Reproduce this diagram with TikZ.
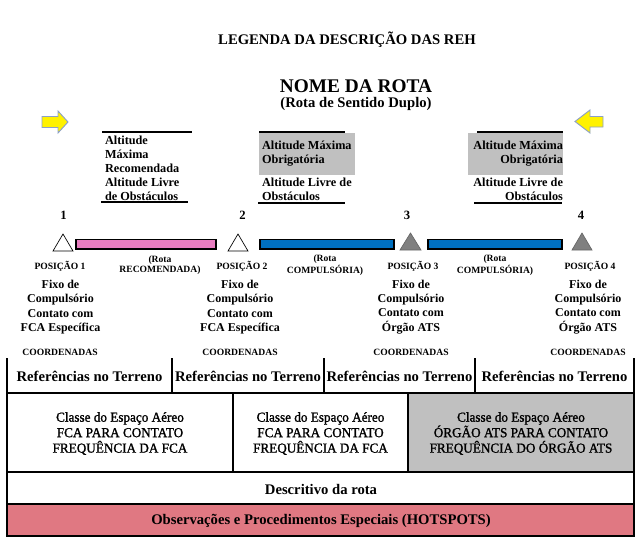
\documentclass[tikz,border=0pt]{standalone}
\usepackage{fontspec}
\setmainfont{Liberation Serif}
\newfontfamily\clsfont[FakeBold=1.3,FakeStretch=0.96]{Liberation Serif}
\definecolor{pinkbar}{RGB}{232,125,192}
\definecolor{bluebar}{RGB}{0,112,192}
\definecolor{boxgray}{RGB}{192,192,192}
\definecolor{trigray}{RGB}{128,128,128}
\definecolor{hotpink}{RGB}{224,120,130}
\definecolor{arrowedge}{RGB}{140,160,200}
\begin{document}
\begin{tikzpicture}[x=0.75pt,y=-0.75pt,
  every node/.style={inner sep=0pt, outer sep=0pt, text=black},
  titletxt/.style={font=\bfseries\fontsize{11}{13}\selectfont},
  bigtxt/.style={font=\bfseries\fontsize{14.5}{17}\selectfont},
  subtxt/.style={font=\bfseries\fontsize{11}{13}\selectfont},
  boxtxt/.style={font=\bfseries\fontsize{9.2}{10.5}\selectfont},
  numtxt/.style={font=\bfseries\fontsize{9.5}{11}\selectfont},
  smalltxt/.style={font=\bfseries\fontsize{7.2}{7.5}\selectfont, align=center},
  fixotxt/.style={font=\bfseries\fontsize{9}{10.7}\selectfont, align=center},
  reftxt/.style={font=\bfseries\fontsize{11}{13}\selectfont},
  clstxt/.style={font=\clsfont\fontsize{10.3}{11.6}\selectfont, align=center},
  thickrule/.style={line width=1.5pt},
  barshape/.style={draw=black, line width=0.9pt},
  tableline/.style={draw=black, line width=0.9pt},
  whitetri/.style={draw=black, fill=white, line width=0.5pt},
  graytri/.style={draw=black!60, fill=trigray, line width=0.5pt},
  yarrow/.style={fill=yellow, draw=arrowedge, line width=0.7pt}]
\useasboundingbox (0,0) rectangle (644,550);

% titles
\node[titletxt] (title) at (347,40) {LEGENDA DA DESCRIÇÃO DAS REH};
\node[bigtxt] (nome) at (356,86) {NOME DA ROTA};
\node[subtxt] (sub) at (356,104) {(Rota de Sentido Duplo)};

% yellow arrows
\draw[yarrow] (42,116.5) -- (58,116.5) -- (58,111) -- (68,122) -- (58,133) -- (58,127.5) -- (42,127.5) -- cycle;
\draw[yarrow] (603,116.5) -- (590,116.5) -- (590,110) -- (575,121.5) -- (590,133) -- (590,127) -- (603,127) -- cycle;

% box 1
\draw[thickrule] (102,132) -- (192,132);
\draw[thickrule] (101,202) -- (188,202);
\node[boxtxt, anchor=west, align=left] (alt1) at (105,168) {Altitude\\Máxima\\Recomendada\\Altitude Livre\\de Obstáculos};

% box 2
\fill[boxgray] (259,133) rectangle (355,175);
\draw[thickrule] (259,132) -- (345,132);
\draw[thickrule] (258,203) -- (345,203);
\node[boxtxt, anchor=west, align=left] (alt2a) at (262,154) {Altitude Máxima\\Obrigatória};
\node[boxtxt, anchor=west, align=left] (alt2b) at (262,189) {Altitude Livre de\\Obstáculos};

% box 3
\fill[boxgray] (468,133) rectangle (563,175);
\draw[thickrule] (477,132) -- (563,132);
\draw[thickrule] (474,203) -- (562,203);
\node[boxtxt, anchor=east, align=right] (alt3a) at (563,154) {Altitude Máxima\\Obrigatória};
\node[boxtxt, anchor=east, align=right] (alt3b) at (563,189) {Altitude Livre de\\Obstáculos};

% numbers
\node[numtxt] (n1) at (63.5,215) {1};
\node[numtxt] (n2) at (242.5,215) {2};
\node[numtxt] (n3) at (407,215) {3};
\node[numtxt] (n4) at (581,215) {4};

% route line
\draw[whitetri] (53,251) -- (63,234) -- (73,251) -- cycle;
\draw[barshape, fill=pinkbar] (76,239.5) rectangle (216,249);
\draw[whitetri] (228,251) -- (238,234) -- (248,251) -- cycle;
\draw[barshape, fill=bluebar] (260,239.5) rectangle (394,249);
\draw[graytri] (400,250) -- (410.5,233) -- (421,250) -- cycle;
\draw[barshape, fill=bluebar] (428,239.5) rectangle (562,249);
\draw[graytri] (572,250) -- (582,233) -- (592,250) -- cycle;

% labels under line
\node[smalltxt] (p1) at (60,266.5) {POSIÇÃO 1};
\node[smalltxt] (r1) at (160,265) {(Rota\\RECOMENDADA)};
\node[smalltxt] (p2) at (242,266.5) {POSIÇÃO 2};
\node[smalltxt] (r2) at (325,265) {(Rota\\COMPULSÓRIA)};
\node[smalltxt] (p3) at (413,266.5) {POSIÇÃO 3};
\node[smalltxt] (r3) at (495,265) {(Rota\\COMPULSÓRIA)};
\node[smalltxt] (p4) at (590,266.5) {POSIÇÃO 4};

\node[fixotxt] (f1) at (60.5,307) {Fixo de\\Compulsório\\Contato com\\FCA Específica};
\node[fixotxt] (f2) at (240,307) {Fixo de\\Compulsório\\Contato com\\FCA Específica};
\node[fixotxt] (f3) at (411,307) {Fixo de\\Compulsório\\Contato com\\Órgão ATS};
\node[fixotxt] (f4) at (588,307) {Fixo de\\Compulsório\\Contato com\\Órgão ATS};

\node[smalltxt] (c1) at (60,352) {COORDENADAS};
\node[smalltxt] (c2) at (240,352) {COORDENADAS};
\node[smalltxt] (c3) at (411,352) {COORDENADAS};
\node[smalltxt] (c4) at (588,352) {COORDENADAS};

% table row 1
\draw[tableline] (7,358) -- (7,393);
\draw[tableline] (172,358) -- (172,393);
\draw[tableline] (324,358) -- (324,393);
\draw[tableline] (475,358) -- (475,393);
\draw[tableline] (634,358) -- (634,393);
\node[reftxt] (t1) at (89.5,376.5) {Referências no Terreno};
\node[reftxt] (t2) at (248,376.5) {Referências no Terreno};
\node[reftxt] (t3) at (399.5,376.5) {Referências no Terreno};
\node[reftxt] (t4) at (554.5,376.5) {Referências no Terreno};

% table row 2
\fill[boxgray] (408,393) rectangle (634,472);
\draw[tableline] (7,393) rectangle (634,472);
\draw[tableline] (233,393) -- (233,472);
\draw[tableline] (408,393) -- (408,472);
\node[clstxt] (k1) at (120,433.5) {Classe do Espaço Aéreo\\FCA PARA CONTATO\\FREQUÊNCIA DA FCA};
\node[clstxt] (k2) at (320.5,433.5) {Classe do Espaço Aéreo\\FCA PARA CONTATO\\FREQUÊNCIA DA FCA};
\node[clstxt] (k3) at (521,433.5) {Classe do Espaço Aéreo\\ÓRGÃO ATS PARA CONTATO\\FREQUÊNCIA DO ÓRGÃO ATS};

% row 3
\draw[tableline] (7,472) rectangle (634,504);
\node[reftxt] (desc) at (321,489) {Descritivo da rota};

% row 4
\draw[tableline, fill=hotpink] (7,504) rectangle (634,536);
\node[reftxt] (obs) at (321,521) {Observações e Procedimentos Especiais (HOTSPOTS)};
\end{tikzpicture}
\end{document}
